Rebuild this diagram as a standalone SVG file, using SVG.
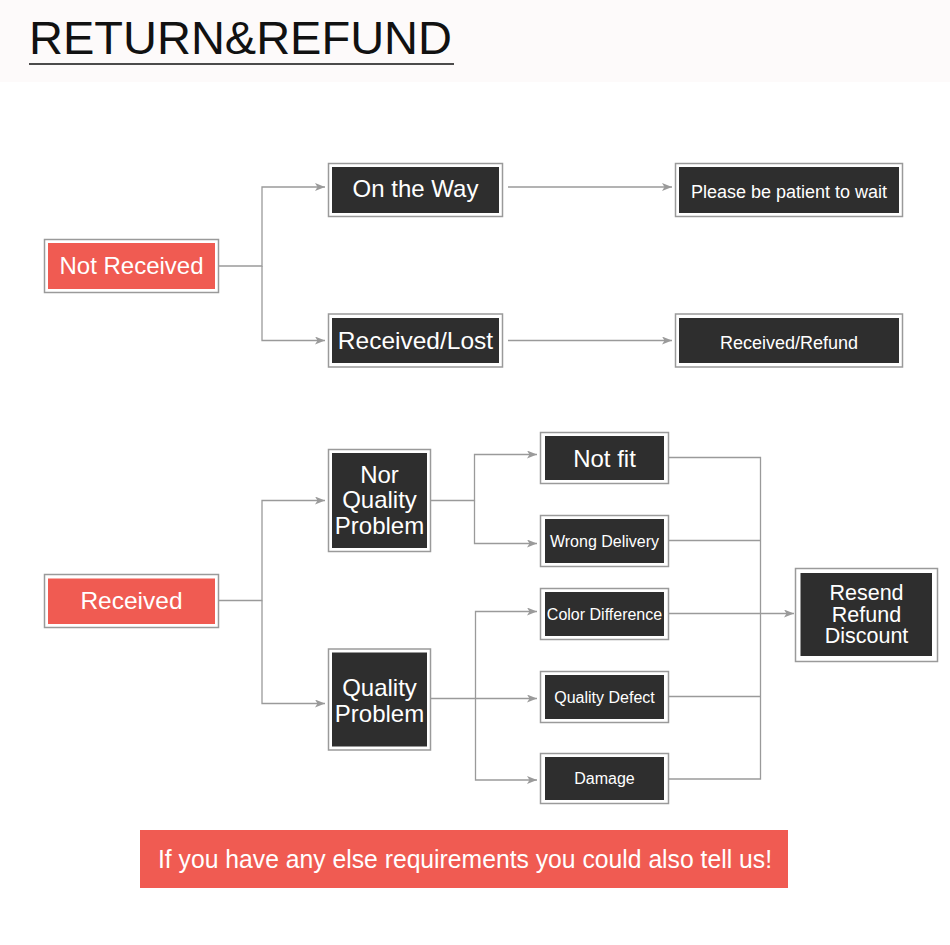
<svg xmlns="http://www.w3.org/2000/svg" width="950" height="945" viewBox="0 0 950 945">
<defs>
<style>
.frame{fill:#ffffff;stroke:#9a9a9a;stroke-width:1.5}
.red{fill:#f05b52}
.dark{fill:#2e2e2e}
.t{font-family:"Liberation Sans",Arial,sans-serif;fill:#ffffff;text-anchor:middle}
.c{fill:none;stroke:#9a9a9a;stroke-width:1.3}
</style>
<marker id="arr" viewBox="0 0 10 8" refX="10" refY="4" markerWidth="10" markerHeight="8" markerUnits="userSpaceOnUse" orient="auto">
<path d="M0,0 L10,4 L0,8 L2.5,4 Z" fill="#9a9a9a"/>
</marker>
</defs>
<rect x="0" y="0" width="950" height="945" fill="#ffffff"/>
<rect x="0" y="0" width="950" height="82" fill="#fdfafa"/>
<g id="title">
<text x="29" y="53.5" font-family="'Liberation Sans',Arial,sans-serif" font-size="47" fill="#111111">RETURN&amp;REFUND</text>
<line x1="29" y1="64" x2="454" y2="64" stroke="#111111" stroke-width="1.5"/>
</g>

<g id="connectors">
<polyline class="c" points="219,266 262,266 262,187 325,187" marker-end="url(#arr)"/>
<polyline class="c" points="262,266 262,340.5 325,340.5" marker-end="url(#arr)"/>
<line class="c" x1="508" y1="187" x2="672" y2="187" marker-end="url(#arr)"/>
<line class="c" x1="508" y1="340.5" x2="672" y2="340.5" marker-end="url(#arr)"/>
<polyline class="c" points="219,600.5 262,600.5 262,500.5 325,500.5" marker-end="url(#arr)"/>
<polyline class="c" points="262,600.5 262,703.5 325,703.5" marker-end="url(#arr)"/>
<polyline class="c" points="430,500.5 474.5,500.5 474.5,454.5 537,454.5" marker-end="url(#arr)"/>
<polyline class="c" points="474.5,500.5 474.5,543.5 537,543.5" marker-end="url(#arr)"/>
<polyline class="c" points="430,698.5 475.5,698.5 475.5,611.5 537,611.5" marker-end="url(#arr)"/>
<line class="c" x1="475.5" y1="698.5" x2="537" y2="698.5" marker-end="url(#arr)"/>
<polyline class="c" points="475.5,698.5 475.5,780 537,780" marker-end="url(#arr)"/>
<polyline class="c" points="669,457.5 760.5,457.5 760.5,779 669,779"/>
<line class="c" x1="669" y1="540.5" x2="760.5" y2="540.5"/>
<line class="c" x1="669" y1="696.5" x2="760.5" y2="696.5"/>
<line class="c" x1="669" y1="613.5" x2="794" y2="613.5" marker-end="url(#arr)"/>
</g>

<g id="not-received">
<rect class="frame" x="44.5" y="239.5" width="174" height="53"/>
<rect class="red" x="48" y="243" width="167" height="46"/>
<text class="t" x="131.5" y="273.5" font-size="24">Not Received</text>
</g>
<g id="on-the-way">
<rect class="frame" x="328.5" y="163.5" width="174" height="53"/>
<rect class="dark" x="332" y="167" width="167" height="46"/>
<text class="t" x="415.5" y="197" font-size="24">On the Way</text>
</g>
<g id="received-lost">
<rect class="frame" x="328.5" y="314" width="174" height="53"/>
<rect class="dark" x="332" y="318" width="167" height="45"/>
<text class="t" x="415.5" y="349" font-size="24.5">Received/Lost</text>
</g>
<g id="please-wait">
<rect class="frame" x="675.5" y="163.5" width="227" height="53"/>
<rect class="dark" x="679" y="167" width="220" height="46"/>
<text class="t" x="789" y="198" font-size="18">Please be patient to wait</text>
</g>
<g id="received-refund">
<rect class="frame" x="675.5" y="314" width="227" height="53"/>
<rect class="dark" x="679" y="318" width="220" height="45"/>
<text class="t" x="789" y="348.5" font-size="18">Received/Refund</text>
</g>

<g id="received">
<rect class="frame" x="44.5" y="574.5" width="174" height="53"/>
<rect class="red" x="48" y="578.5" width="167" height="45.5"/>
<text class="t" x="131.5" y="609" font-size="24.5">Received</text>
</g>
<g id="nor-quality-problem">
<rect class="frame" x="328.5" y="449.5" width="102" height="102"/>
<rect class="dark" x="332" y="453" width="95" height="95"/>
<text class="t" x="379.5" y="482.5" font-size="24">Nor</text>
<text class="t" x="379.5" y="508" font-size="24">Quality</text>
<text class="t" x="379.5" y="533.5" font-size="24">Problem</text>
</g>
<g id="quality-problem">
<rect class="frame" x="328.5" y="649" width="102" height="101"/>
<rect class="dark" x="332" y="652.5" width="95" height="94"/>
<text class="t" x="379.5" y="696" font-size="24">Quality</text>
<text class="t" x="379.5" y="721.5" font-size="24">Problem</text>
</g>
<g id="not-fit">
<rect class="frame" x="540.5" y="432.5" width="128" height="51"/>
<rect class="dark" x="545" y="436" width="119" height="44"/>
<text class="t" x="604.5" y="466.5" font-size="24">Not fit</text>
</g>
<g id="wrong-delivery">
<rect class="frame" x="540.5" y="515.5" width="128" height="51"/>
<rect class="dark" x="545" y="519" width="119" height="44"/>
<text class="t" x="604.5" y="546.5" font-size="16">Wrong Delivery</text>
</g>
<g id="color-difference">
<rect class="frame" x="540.5" y="588.5" width="128" height="51"/>
<rect class="dark" x="545" y="592" width="119" height="44"/>
<text class="t" x="604.5" y="620" font-size="16">Color Difference</text>
</g>
<g id="quality-defect">
<rect class="frame" x="540.5" y="671.5" width="128" height="51"/>
<rect class="dark" x="545" y="675" width="119" height="44"/>
<text class="t" x="604.5" y="702.5" font-size="16">Quality Defect</text>
</g>
<g id="damage">
<rect class="frame" x="540.5" y="753.5" width="128" height="50"/>
<rect class="dark" x="545" y="757" width="119" height="43"/>
<text class="t" x="604.5" y="783.5" font-size="16">Damage</text>
</g>
<g id="resend-refund-discount">
<rect class="frame" x="795.5" y="568.5" width="142" height="93"/>
<rect class="dark" x="800.5" y="573" width="131.5" height="83"/>
<text class="t" x="866.5" y="600" font-size="21.5">Resend</text>
<text class="t" x="866.5" y="621.5" font-size="21.5">Refund</text>
<text class="t" x="866.5" y="643" font-size="21.5">Discount</text>
</g>
<g id="footer">
<rect class="red" x="140" y="830" width="648" height="58"/>
<text class="t" x="465" y="867.5" font-size="25" textLength="614" lengthAdjust="spacingAndGlyphs">If you have any else requirements you could also tell us!</text>
</g>
</svg>
